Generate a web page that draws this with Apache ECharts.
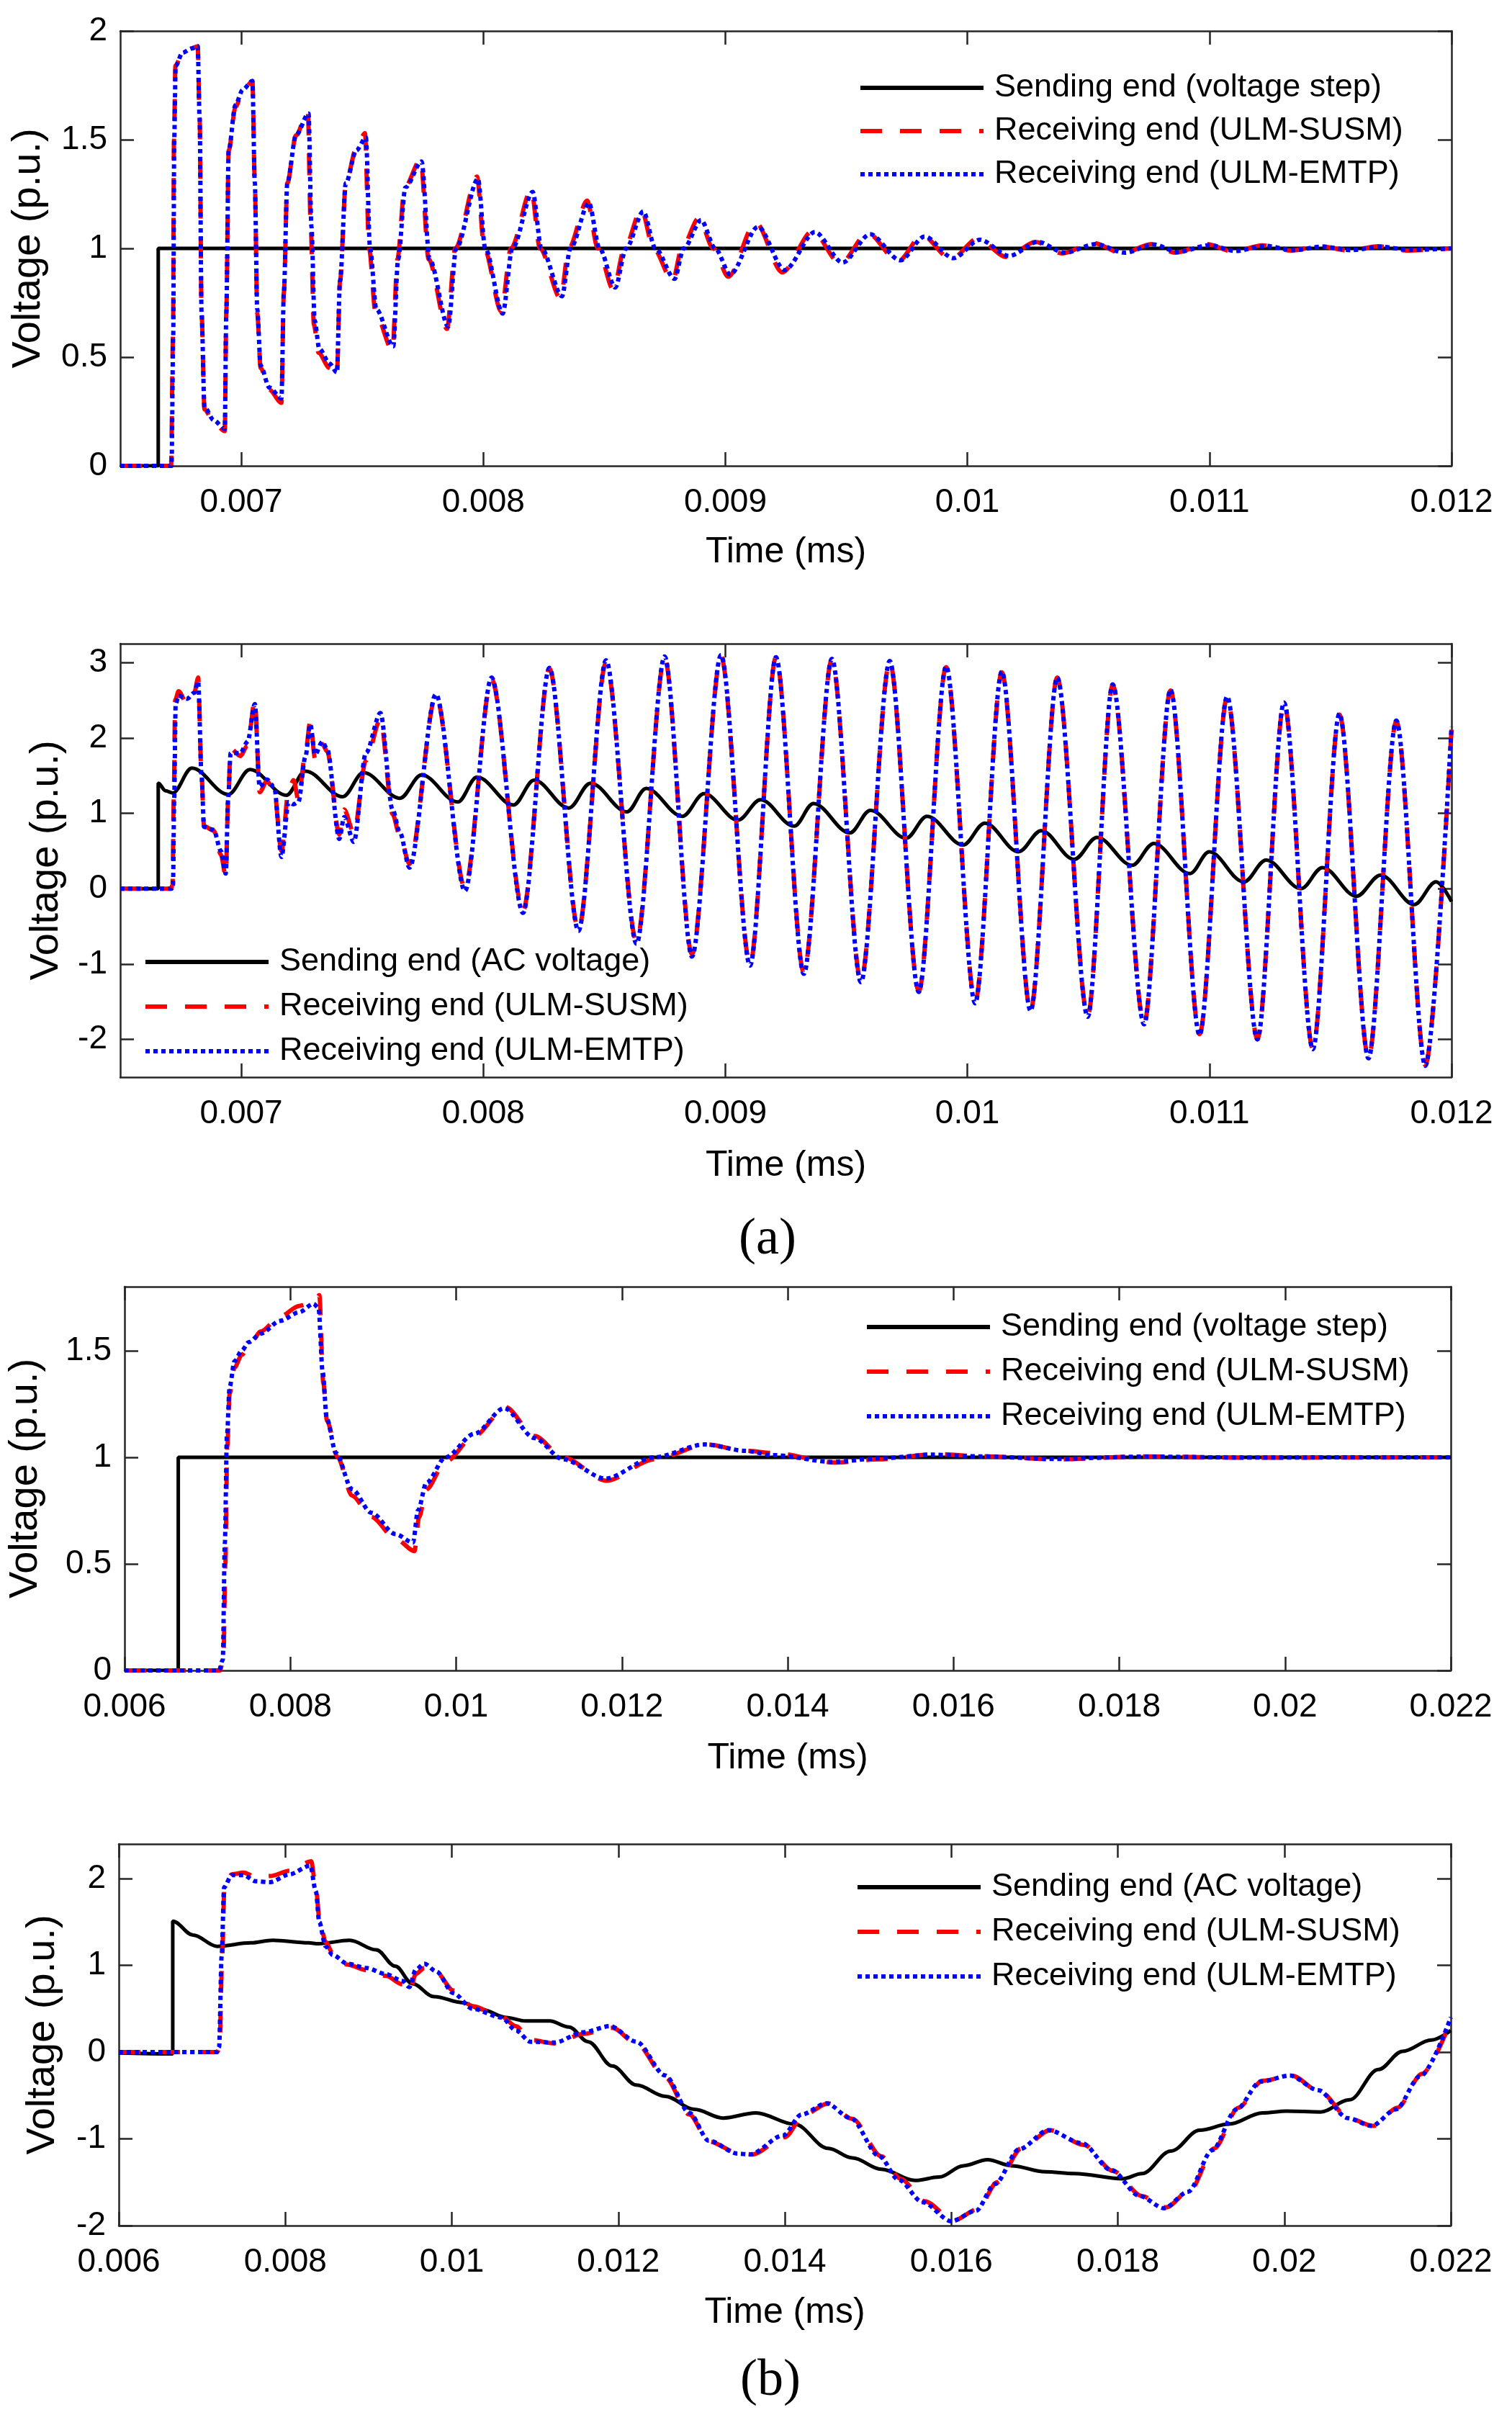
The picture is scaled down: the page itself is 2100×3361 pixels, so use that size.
<!DOCTYPE html>
<html lang="en">
<head>
<meta charset="UTF-8">
<title>ULM transient voltages</title>
<script src="https://cdn.jsdelivr.net/npm/echarts@6.0.0/dist/echarts.min.js"></script>
<style>html,body{margin:0;padding:0;background:#fff;}</style>
</head>
<body>
<div id="main" style="width:2100px;height:3361px;"></div>
<script type="text/javascript">
// series names
var NAME_STEP = 'Sending end (voltage step)';
var NAME_AC = 'Sending end (AC voltage)';
var NAME_SUSM = 'Receiving end (ULM-SUSM)';
var NAME_EMTP = 'Receiving end (ULM-EMTP)';

// tick labels
var ticksA = [0.007, 0.008, 0.009, 0.01, 0.011, 0.012];
var ticksB = [0.006, 0.008, 0.01, 0.012, 0.014, 0.016, 0.018, 0.02, 0.022];
var yTicks1 = [0, 0.5, 1, 1.5, 2];
var yTicks2 = [-2, -1, 0, 1, 2, 3];
var yTicks3 = [0, 0.5, 1, 1.5];
var yTicks4 = [-2, -1, 0, 1, 2];

// (a) top: voltage step  [time, voltage]
var a1Send = [[0.0065,0],[0.006657,0],[0.006657,1],[0.012,1]];
var a1Susm = [[0.0065,0],[0.00671,0],[0.006718,0.6],[0.006722,1.5],[0.006728,1.84],[0.006757,1.9],[0.006796,1.92],[0.00682,1.93],
  [0.006828,1.6],[0.006836,0.7],[0.006848,0.26],[0.006886,0.2],[0.006932,0.16],
  [0.006938,0.7],[0.006948,1.45],[0.006976,1.65],[0.007006,1.72],[0.007046,1.77],
  [0.007056,1.3],[0.007066,0.7],[0.00708,0.45],[0.007116,0.35],[0.007166,0.29],
  [0.007176,0.8],[0.00719,1.3],[0.007226,1.52],[0.007275,1.63],
  [0.007287,1.1],[0.0073,0.65],[0.007319,0.52],[0.007365,0.45],[0.007395,0.41],
  [0.007408,0.85],[0.007432,1.3],[0.007475,1.46],[0.007511,1.53],
  [0.007528,1.0],[0.007555,0.7],[0.007625,0.53],
  [0.007645,0.95],[0.007675,1.28],[0.007741,1.41],
  [0.007774,0.95],[0.00785,0.63],[0.007884,1.0],[0.007974,1.33],
  [0.008004,1.0],[0.008074,0.71],[0.008114,1.0],[0.008198,1.27],
  [0.008234,1.0],[0.008319,0.77],[0.008353,1.0],[0.008429,1.22],
  [0.008473,1.0],[0.008537,0.81],[0.008583,1.0],[0.008653,1.18],
  [0.008703,1.0],[0.008782,0.85],[0.00882,1.0],[0.00889,1.14],
  [0.00895,1.0],[0.009012,0.87],[0.009125,1.12],[0.009235,0.89],[0.00936,1.08],[0.009474,0.93],
  [0.009588,1.07],[0.009713,0.94],[0.009813,1.06],[0.009932,0.95],[0.010042,1.045],[0.010162,0.96],
  [0.010281,1.03],[0.010391,0.977],[0.01052,1.025],[0.01064,0.977],[0.01076,1.02],[0.010859,0.98],
  [0.010989,1.02],[0.011099,0.985],[0.011218,1.014],[0.011338,0.99],[0.011457,1.01],[0.011577,0.99],
  [0.011697,1.01],[0.011816,0.99],[0.012,1.0]];
var a1Emtp = [[0.0065,0],[0.006712,0],[0.006719,0.6],[0.006723,1.5],[0.006729,1.84],[0.006757,1.9],[0.006796,1.92],[0.00682,1.93],
  [0.006828,1.6],[0.006836,0.7],[0.006848,0.27],[0.006886,0.21],[0.006932,0.17],
  [0.006938,0.7],[0.006948,1.45],[0.006976,1.66],[0.007006,1.73],[0.007046,1.77],
  [0.007056,1.3],[0.007066,0.72],[0.00708,0.46],[0.007116,0.36],[0.007166,0.31],
  [0.007176,0.8],[0.00719,1.3],[0.007226,1.52],[0.007278,1.62],
  [0.00729,1.1],[0.007303,0.67],[0.007322,0.54],[0.007365,0.47],[0.007395,0.43],
  [0.007408,0.85],[0.007432,1.3],[0.007475,1.45],[0.007515,1.51],
  [0.007532,1.0],[0.007558,0.72],[0.007628,0.55],
  [0.007648,0.95],[0.007678,1.28],[0.007745,1.4],
  [0.007778,0.95],[0.007855,0.64],[0.007888,1.0],[0.007978,1.32],
  [0.008008,1.0],[0.00808,0.7],[0.00812,1.0],[0.008204,1.26],
  [0.00824,1.0],[0.008325,0.78],[0.00836,1.0],[0.008436,1.21],
  [0.00848,1.0],[0.008545,0.82],[0.00859,1.0],[0.008661,1.17],
  [0.008711,1.0],[0.00879,0.86],[0.008828,1.0],[0.0089,1.13],
  [0.008958,1.0],[0.00902,0.88],[0.009135,1.1],[0.009245,0.9],[0.00937,1.075],[0.009484,0.935],
  [0.009598,1.065],[0.009723,0.945],[0.009823,1.055],[0.009942,0.955],[0.010052,1.04],[0.010172,0.965],
  [0.010291,1.03],[0.010401,0.98],[0.01053,1.02],[0.01065,0.98],[0.01077,1.018],[0.010869,0.983],
  [0.010999,1.015],[0.011109,0.988],[0.011228,1.012],[0.011348,0.992],[0.011467,1.008],[0.011587,0.992],
  [0.011707,1.008],[0.011826,0.993],[0.012,1.0]];

// (a) bottom: AC voltage
var a2Send = [[0.0065,0],[0.006657,0],[0.006657,1.4],[0.006687,1.3],[0.006717,1.27],[0.006796,1.6],[0.006946,1.25],
  [0.007036,1.58],[0.007186,1.24],[0.007265,1.56],[0.007419,1.22],[0.007505,1.54],[0.007655,1.2],[0.007745,1.51],
  [0.007894,1.15],[0.007974,1.48],[0.008124,1.11],[0.00821,1.44],[0.008353,1.07],[0.008443,1.4],[0.008593,1.02],
  [0.008673,1.33],[0.008822,0.96],[0.008912,1.26],[0.009052,0.91],[0.009145,1.18],[0.009284,0.83],[0.009364,1.13],
  [0.009514,0.74],[0.009599,1.04],[0.009747,0.67],[0.009833,0.96],[0.009982,0.58],[0.010072,0.87],[0.010211,0.49],
  [0.010305,0.77],[0.010441,0.39],[0.010536,0.68],[0.01068,0.31],[0.01077,0.6],[0.010919,0.2],[0.010999,0.49],
  [0.011142,0.09],[0.011234,0.38],[0.011378,0.0],[0.011467,0.28],[0.011607,-0.1],[0.011707,0.18],[0.011846,-0.21],
  [0.011936,0.09],[0.012,-0.17]];
var a2Susm = [[0.0065,0],[0.00671,0],[0.006716,0.05],[0.006721,1.2],[0.006727,2.5],[0.006741,2.62],[0.006776,2.45],
  [0.006806,2.6],[0.006822,2.8],[0.006836,1.5],[0.006846,0.83],[0.006886,0.77],[0.006916,0.45],[0.006936,0.16],
  [0.006946,1.2],[0.006956,1.86],[0.006996,1.76],[0.007026,1.9],[0.007056,2.5],[0.007076,1.28],[0.007106,1.43],
  [0.007136,1.3],[0.007166,0.5],[0.007196,1.32],[0.007216,1.44],[0.007236,1.18],[0.007265,1.8],[0.007285,2.22],
  [0.007305,1.72],[0.007335,1.92],[0.007355,1.82],[0.007405,0.72],[0.007425,1.05],[0.007465,0.74],[0.007515,1.7],
  [0.007575,2.25],[0.007625,0.99],[0.007655,0.7],[0.007695,0.33],[0.007804,2.56],[0.007924,0.01],[0.008034,2.78],
  [0.008164,-0.29],[0.008273,2.92],[0.008393,-0.54],[0.008507,3.0],[0.008633,-0.7],[0.008749,3.06],[0.008862,-0.87],
  [0.008982,3.08],[0.009102,-1.0],[0.009209,3.07],[0.009324,-1.11],[0.00944,3.04],[0.00956,-1.22],[0.009679,3.01],
  [0.009799,-1.36],[0.009912,2.94],[0.010032,-1.5],[0.010142,2.87],[0.010261,-1.61],[0.010371,2.8],[0.010497,-1.69],
  [0.0106,2.7],[0.01073,-1.79],[0.010839,2.63],[0.010959,-1.93],[0.011073,2.54],[0.011198,-1.99],[0.011308,2.46],
  [0.011427,-2.12],[0.011537,2.31],[0.011657,-2.24],[0.011772,2.22],[0.011892,-2.34],[0.012,2.11]];
var a2Emtp = [[0.0065,0],[0.006712,0],[0.006718,0.05],[0.006723,1.2],[0.006729,2.45],[0.006741,2.56],[0.006776,2.52],
  [0.006806,2.6],[0.006822,2.75],[0.006836,1.5],[0.006846,0.82],[0.006886,0.78],[0.006916,0.5],[0.006936,0.2],
  [0.006946,1.2],[0.006956,1.8],[0.006996,1.8],[0.007026,1.95],[0.007056,2.45],[0.007076,1.35],[0.007106,1.45],
  [0.007136,1.35],[0.007166,0.42],[0.007196,1.15],[0.007216,1.12],[0.007236,1.15],[0.007265,1.75],[0.007285,2.18],
  [0.007305,1.78],[0.007335,1.95],[0.007355,1.85],[0.007405,0.66],[0.007425,0.95],[0.007465,0.62],[0.007515,1.8],
  [0.007575,2.33],[0.007625,1.05],[0.007655,0.75],[0.007695,0.28],[0.007804,2.58],[0.007924,-0.03],[0.008034,2.8],
  [0.008164,-0.32],[0.008273,2.93],[0.008393,-0.56],[0.008507,3.03],[0.008633,-0.73],[0.008749,3.08],[0.008862,-0.9],
  [0.008982,3.1],[0.009102,-1.02],[0.009209,3.07],[0.009324,-1.13],[0.00944,3.05],[0.00956,-1.24],[0.009679,3.02],
  [0.009799,-1.37],[0.009912,2.95],[0.010032,-1.52],[0.010142,2.88],[0.010261,-1.62],[0.010371,2.8],[0.010497,-1.7],
  [0.0106,2.71],[0.01073,-1.8],[0.010839,2.64],[0.010959,-1.94],[0.011073,2.55],[0.011198,-2.0],[0.011308,2.47],
  [0.011427,-2.13],[0.011537,2.32],[0.011657,-2.25],[0.011772,2.23],[0.011892,-2.35],[0.012,2.15]];

// (b) top: voltage step
var b1Send = [[0.006,0],[0.006648,0],[0.006648,1],[0.022,1]];
var b1Susm = [[0.006,0],[0.00715,0],[0.007193,0.05],[0.007216,0.5],[0.007239,1.05],[0.007268,1.3],[0.007326,1.42],
  [0.007413,1.48],[0.007499,1.52],[0.007644,1.59],[0.007876,1.66],[0.008107,1.71],[0.008281,1.73],[0.00835,1.76],
  [0.008397,1.35],[0.008443,1.17],[0.00857,1.0],[0.008744,0.82],[0.008976,0.72],[0.009265,0.62],[0.009497,0.56],
  [0.009554,0.72],[0.009641,0.85],[0.009873,0.98],[0.01022,1.1],[0.010597,1.235],[0.010944,1.1],[0.011291,1.0],
  [0.011812,0.89],[0.012391,0.99],[0.013028,1.06],[0.013491,1.03],[0.013826,1.02],[0.01458,0.975],[0.015101,0.99],
  [0.015797,1.015],[0.016319,1.005],[0.017246,0.99],[0.01829,1.004],[0.01945,0.998],[0.022,1.0]];
var b1Emtp = [[0.006,0],[0.00714,0],[0.007185,0.05],[0.00721,0.6],[0.007235,1.1],[0.007268,1.33],[0.007326,1.45],
  [0.007413,1.5],[0.007499,1.54],[0.007644,1.58],[0.007876,1.64],[0.008107,1.68],[0.00828,1.72],[0.00834,1.7],
  [0.00839,1.4],[0.00844,1.18],[0.00855,1.02],[0.008744,0.85],[0.008976,0.74],[0.009265,0.64],[0.00948,0.6],
  [0.00954,0.75],[0.009641,0.88],[0.009873,1.0],[0.01022,1.11],[0.01058,1.23],[0.010944,1.09],[0.011291,0.99],
  [0.0118,0.9],[0.012391,1.0],[0.013,1.06],[0.013491,1.03],[0.013826,1.01],[0.01455,0.978],[0.015101,0.995],
  [0.01575,1.012],[0.016319,1.004],[0.0172,0.992],[0.01829,1.003],[0.01945,0.999],[0.022,1.0]];

// (b) bottom: AC voltage
var b2Send = [[0.006,-0.01],[0.006648,-0.02],[0.006648,1.51],[0.006891,1.35],[0.007181,1.22],[0.007586,1.26],
  [0.007847,1.29],[0.008281,1.26],[0.008397,1.25],[0.008773,1.29],[0.009091,1.18],[0.009323,0.99],[0.009525,0.79],
  [0.009786,0.64],[0.010133,0.57],[0.010365,0.49],[0.010654,0.4],[0.010886,0.36],[0.011175,0.36],[0.011407,0.29],
  [0.011638,0.12],[0.011928,-0.16],[0.012217,-0.38],[0.012565,-0.51],[0.012912,-0.66],[0.013259,-0.76],[0.013652,-0.7],
  [0.014116,-0.83],[0.014522,-1.11],[0.014812,-1.22],[0.015159,-1.35],[0.015565,-1.48],[0.015855,-1.44],[0.016145,-1.31],
  [0.016435,-1.24],[0.016725,-1.31],[0.01713,-1.38],[0.017478,-1.4],[0.018058,-1.46],[0.01829,-1.4],[0.018638,-1.14],
  [0.018985,-0.9],[0.019333,-0.83],[0.019739,-0.7],[0.020029,-0.68],[0.020435,-0.69],[0.020783,-0.55],[0.02113,-0.2],
  [0.02142,0.01],[0.021768,0.14],[0.022,0.25]];
var b2Susm = [[0.006,0],[0.007181,0],[0.00721,0.05],[0.007239,1.0],[0.007268,1.88],[0.007355,2.05],[0.007499,2.07],
  [0.007644,2.02],[0.007818,2.03],[0.008049,2.09],[0.00831,2.2],[0.008368,1.9],[0.008408,1.55],[0.008484,1.27],
  [0.00857,1.14],[0.008744,1.01],[0.008976,0.945],[0.009207,0.88],[0.00941,0.78],[0.009497,0.7],[0.009566,0.9],
  [0.00967,0.97],[0.009815,0.92],[0.010018,0.71],[0.010249,0.53],[0.010597,0.41],[0.01077,0.3],[0.010944,0.14],
  [0.011233,0.1],[0.011581,0.21],[0.011928,0.28],[0.012217,0.1],[0.012565,-0.29],[0.012854,-0.72],[0.013086,-1.03],
  [0.013433,-1.16],[0.013607,-1.18],[0.014,-0.98],[0.014232,-0.72],[0.014522,-0.59],[0.014812,-0.77],[0.015159,-1.2],
  [0.015391,-1.46],[0.015681,-1.72],[0.016029,-1.94],[0.016319,-1.81],[0.016551,-1.5],[0.016841,-1.11],[0.017188,-0.9],
  [0.017594,-1.07],[0.017942,-1.37],[0.01829,-1.66],[0.01858,-1.79],[0.01887,-1.59],[0.019159,-1.11],[0.019449,-0.64],
  [0.019739,-0.33],[0.020087,-0.27],[0.020435,-0.46],[0.020783,-0.77],[0.021072,-0.85],[0.021362,-0.64],[0.021652,-0.25],
  [0.022,0.36]];
var b2Emtp = [[0.006,0],[0.007175,0],[0.007205,0.06],[0.007235,1.1],[0.007265,1.9],[0.007355,2.04],[0.007499,2.04],
  [0.007644,1.97],[0.007818,1.96],[0.008049,2.05],[0.0083,2.15],[0.008368,1.85],[0.008408,1.5],[0.008484,1.22],
  [0.00857,1.12],[0.008744,1.02],[0.008976,0.97],[0.009207,0.9],[0.00941,0.82],[0.00949,0.75],[0.009566,0.95],
  [0.00967,1.02],[0.009815,0.93],[0.010018,0.68],[0.010249,0.5],[0.010597,0.4],[0.01077,0.25],[0.010944,0.12],
  [0.011233,0.11],[0.011581,0.23],[0.0119,0.3],[0.012217,0.12],[0.012565,-0.27],[0.012854,-0.7],[0.013086,-1.02],
  [0.013433,-1.17],[0.01358,-1.18],[0.01398,-0.96],[0.0142,-0.72],[0.0145,-0.59],[0.01479,-0.76],[0.015135,-1.2],
  [0.015365,-1.47],[0.015655,-1.73],[0.016,-1.95],[0.016295,-1.83],[0.016525,-1.52],[0.016815,-1.12],[0.017165,-0.9],
  [0.01757,-1.05],[0.01792,-1.36],[0.018265,-1.66],[0.018555,-1.8],[0.018845,-1.61],[0.019135,-1.13],[0.019425,-0.66],
  [0.019715,-0.34],[0.020065,-0.27],[0.02041,-0.44],[0.02076,-0.76],[0.02105,-0.85],[0.02134,-0.66],[0.02163,-0.28],
  [0.022,0.4]];

var AXIS_COLOR = '#262626';
var FONT = 'Liberation Sans';

function xAxes(gi, min, max, ticks, gap) {
  var line = {onZero: false, lineStyle: {color: AXIS_COLOR, width: 2.5}};
  var tick = {inside: true, length: 19, customValues: ticks, lineStyle: {color: AXIS_COLOR, width: 2.5}};
  return [
    {type: 'value', gridIndex: gi, position: 'bottom', min: min, max: max,
     name: 'Time (ms)', nameLocation: 'middle', nameGap: gap,
     nameTextStyle: {fontSize: 50, color: '#000', fontFamily: FONT},
     axisLine: line, axisTick: tick, splitLine: {show: false},
     axisLabel: {customValues: ticks, margin: 28, fontSize: 46, color: '#000', fontFamily: FONT,
                 formatter: function (v) { return String(v); }}},
    {type: 'value', gridIndex: gi, position: 'top', min: min, max: max,
     axisLine: line, axisTick: tick, axisLabel: {show: false}, splitLine: {show: false}}
  ];
}

function yAxes(gi, min, max, ticks, gap) {
  var line = {onZero: false, lineStyle: {color: AXIS_COLOR, width: 2.5}};
  var tick = {inside: true, length: 19, customValues: ticks, lineStyle: {color: AXIS_COLOR, width: 2.5}};
  return [
    {type: 'value', gridIndex: gi, position: 'left', min: min, max: max,
     name: 'Voltage (p.u.)', nameLocation: 'middle', nameGap: gap,
     nameTextStyle: {fontSize: 56, color: '#000', fontFamily: FONT},
     axisLine: line, axisTick: tick, splitLine: {show: false},
     axisLabel: {customValues: ticks, margin: 18, fontSize: 46, color: '#000', fontFamily: FONT,
                 formatter: function (v) { return String(v); }}},
    {type: 'value', gridIndex: gi, position: 'right', min: min, max: max,
     axisLine: line, axisTick: tick, axisLabel: {show: false}, splitLine: {show: false}}
  ];
}

function lines(gi, sendName, send, susm, emtp) {
  var common = {type: 'line', xAxisIndex: gi * 2, yAxisIndex: gi * 2, symbol: 'none', showSymbol: false,
                animation: false, smoothMonotone: 'x'};
  return [
    Object.assign({}, common, {name: sendName, data: send, smooth: sendName === NAME_AC ? 0.35 : false,
      lineStyle: {color: '#000', width: 5}, itemStyle: {color: '#000'}, z: 2}),
    Object.assign({}, common, {name: NAME_SUSM, data: susm, smooth: 0.3,
      lineStyle: {color: '#ff0000', width: 6, type: [30, 25]}, itemStyle: {color: '#ff0000'}, z: 3}),
    Object.assign({}, common, {name: NAME_EMTP, data: emtp, smooth: 0.3,
      lineStyle: {color: '#0000ff', width: 6, type: [6, 5]}, itemStyle: {color: '#0000ff'}, z: 4})
  ];
}

function legend(left, top, gap, sendName) {
  return {orient: 'vertical', left: left, top: top, itemWidth: 171, itemHeight: 20, itemGap: gap,
    selectedMode: false, data: [sendName, NAME_SUSM, NAME_EMTP],
    itemStyle: {opacity: 0},
    lineStyle: {width: 6},
    textStyle: {fontSize: 45, lineHeight: 56, color: '#000', fontFamily: FONT, padding: [0, 0, 0, 10]}};
}

var myChart = echarts.init(document.getElementById('main'));

var option = {
  backgroundColor: '#fff',
  animation: false,
  textStyle: {fontFamily: FONT},
  title: [
    {text: '(a)', left: 1021, top: 1681, textStyle: {fontFamily: 'Liberation Serif', fontSize: 72, fontWeight: 'normal', color: '#000'}},
    {text: '(b)', left: 1023, top: 3266, textStyle: {fontFamily: 'Liberation Serif', fontSize: 72, fontWeight: 'normal', color: '#000'}}
  ],
  grid: [
    {left: 167, top: 43, width: 1849, height: 604},
    {left: 167, top: 894, width: 1849, height: 602},
    {left: 165, top: 1787, width: 1850, height: 533},
    {left: 165, top: 2561, width: 1850, height: 530}
  ],
  legend: [
    legend(1187, 89, 4, NAME_STEP),
    legend(194, 1303, 6, NAME_AC),
    legend(1196, 1810, 6, NAME_STEP),
    legend(1183, 2588, 6, NAME_AC)
  ],
  xAxis: [].concat(
    xAxes(0, 0.0065, 0.012, ticksA, 95),
    xAxes(1, 0.0065, 0.012, ticksA, 98),
    xAxes(2, 0.006, 0.022, ticksB, 97),
    xAxes(3, 0.006, 0.022, ticksB, 96)
  ),
  yAxis: [].concat(
    yAxes(0, 0, 2, yTicks1, 99),
    yAxes(1, -2.5, 3.25, yTicks2, 74),
    yAxes(2, 0, 1.8, yTicks3, 109),
    yAxes(3, -2, 2.4, yTicks4, 77)
  ),
  series: [].concat(
    lines(0, NAME_STEP, a1Send, a1Susm, a1Emtp),
    lines(1, NAME_AC, a2Send, a2Susm, a2Emtp),
    lines(2, NAME_STEP, b1Send, b1Susm, b1Emtp),
    lines(3, NAME_AC, b2Send, b2Susm, b2Emtp)
  )
};

myChart.setOption(option);
</script>
</body>
</html>
